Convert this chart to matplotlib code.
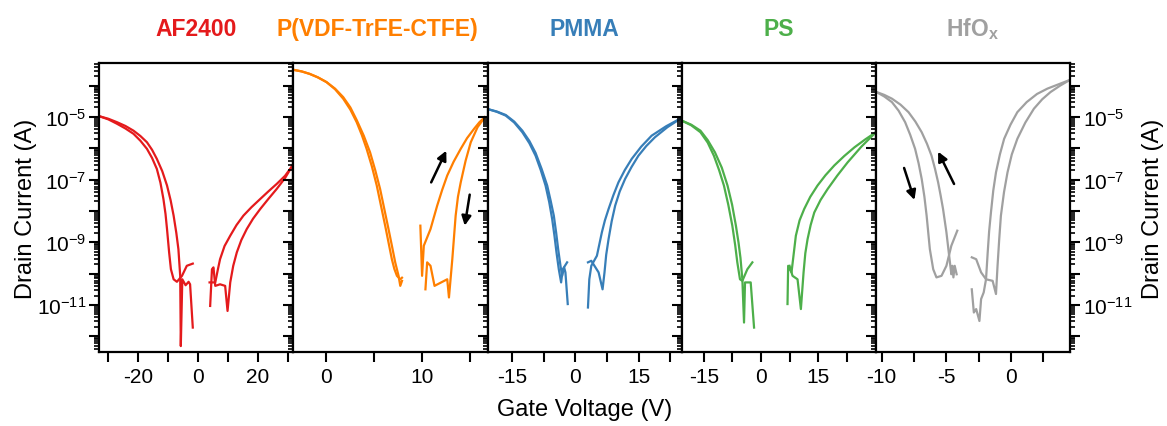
import numpy as np
import matplotlib
matplotlib.use("Agg")
import matplotlib.pyplot as plt
from matplotlib.ticker import LogLocator, FixedLocator, NullFormatter, FuncFormatter

plt.rcParams["font.family"] = ["Liberation Sans", "DejaVu Sans"]
plt.rcParams["mathtext.default"] = "regular"
plt.rcParams["axes.unicode_minus"] = False

# --- data: gate voltage (V) and log10 of drain current (A) ---
# AF2400
af_a_left_v = [-33.0, -30.0, -27.1, -24.3, -21.6, -19.3, -17.1, -15.4, -13.8, -12.6, -11.6, -10.9, -10.4, -9.7, -9.1, -8.2, -7.1, -5.4, -3.8, -1.8]
af_a_left_i = [-4.98, -5.08, -5.22, -5.37, -5.54, -5.76, -6.02, -6.31, -6.66, -7.10, -7.62, -8.10, -8.58, -9.32, -9.86, -10.18, -10.26, -10.07, -9.75, -9.68]
af_b_left_v = [-33.0, -30.0, -27.1, -24.3, -21.6, -19.3, -17.1, -15.4, -13.8, -12.0, -10.4, -9.2, -8.2, -7.3, -6.6, -6.0, -5.8, -5.3, -4.2, -3.2, -2.7, -1.8]
af_b_left_i = [-4.98, -5.06, -5.17, -5.29, -5.44, -5.61, -5.81, -6.05, -6.34, -6.73, -7.19, -7.66, -8.15, -8.70, -9.22, -10.07, -12.31, -10.18, -10.37, -10.26, -10.34, -11.72]
af_a_right_v = [4.0, 4.6, 5.1, 5.7, 7.3, 9.0, 9.8, 10.7, 11.7, 12.9, 14.4, 16.2, 18.3, 20.7, 23.4, 26.2, 29.0, 31.5]
af_a_right_i = [-11.03, -9.86, -9.80, -10.39, -10.34, -10.39, -11.19, -10.28, -9.75, -9.32, -8.93, -8.58, -8.25, -7.94, -7.62, -7.30, -6.95, -6.55]
af_b_right_v = [3.8, 5.7, 6.5, 7.3, 8.8, 10.7, 12.8, 15.1, 17.8, 20.7, 23.4, 26.2, 29.0, 31.5]
af_b_right_i = [-10.28, -10.28, -9.90, -9.54, -9.12, -8.79, -8.45, -8.15, -7.88, -7.62, -7.38, -7.14, -6.88, -6.55]

# P(VDF-TrFE-CTFE)
pv_a_left_v = [-3.45, -2.6, -1.75, -0.9, 0.0, 0.9, 1.75, 2.5, 3.16, 3.7, 4.2, 4.75, 5.26, 5.7, 6.14, 6.5, 6.84, 7.1, 7.37, 7.72, 7.9]
pv_a_left_i = [-3.50, -3.55, -3.63, -3.74, -3.89, -4.12, -4.42, -4.77, -5.17, -5.58, -6.02, -6.58, -7.19, -7.83, -8.47, -9.02, -9.54, -9.85, -10.07, -10.18, -10.13]
pv_b_left_v = [-3.45, -2.6, -1.75, -0.9, 0.0, 0.9, 1.75, 2.5, 3.16, 3.9, 4.56, 5.1, 5.61, 6.05, 6.49, 6.85, 7.19, 7.54, 7.72, 7.9]
pv_b_left_i = [-3.50, -3.55, -3.63, -3.74, -3.89, -4.10, -4.37, -4.70, -5.10, -5.60, -6.13, -6.70, -7.30, -7.94, -8.58, -9.12, -9.64, -10.07, -10.39, -10.23]
pv_a_right_v = [9.82, 10.0, 10.18, 10.88, 11.58, 12.1, 12.63, 13.3, 14.04, 14.7, 15.44, 16.0, 16.56]
pv_a_right_i = [-8.47, -10.07, -9.11, -8.58, -7.83, -7.33, -6.87, -6.43, -6.02, -5.68, -5.38, -5.17, -5.01]
pv_b_right_v = [10.35, 10.53, 10.88, 11.30, 12.63, 12.81, 13.16, 13.51, 13.75, 14.04, 14.55, 15.09, 15.8, 16.56]
pv_b_right_i = [-10.50, -9.64, -9.75, -10.39, -10.18, -10.76, -9.54, -8.15, -7.55, -7.09, -6.40, -5.81, -5.33, -5.01]
pv_arrows = [((10.95, -7.09), (12.53, -6.08)), ((14.98, -7.48), (14.46, -8.47))]

# PMMA
pm_a_left_v = [-20.8, -18.6, -16.5, -14.5, -12.57, -10.9, -9.43, -8.2, -7.07, -6.2, -5.5, -4.95, -4.48, -3.93, -3.38, -2.99, -1.96]
pm_a_left_i = [-4.75, -4.84, -4.96, -5.18, -5.49, -5.84, -6.24, -6.70, -7.19, -7.72, -8.26, -8.80, -9.32, -9.86, -10.28, -9.86, -9.64]
pm_b_left_v = [-20.8, -18.6, -16.5, -14.5, -12.57, -10.9, -9.43, -8.0, -6.68, -5.85, -5.11, -4.55, -4.08, -3.53, -3.14, -2.67, -2.36, -1.81]
pm_b_left_i = [-4.75, -4.83, -4.94, -5.15, -5.44, -5.77, -6.15, -6.66, -7.19, -7.68, -8.15, -8.70, -9.22, -9.75, -10.07, -9.80, -9.96, -10.97]
pm_a_right_v = [2.98, 3.3, 3.77, 5.1, 6.28, 7.0, 7.86, 9.0, 10.2, 11.7, 13.35, 15.6, 18.07, 21.5, 25.2]
pm_a_right_i = [-11.08, -10.18, -9.75, -9.43, -8.68, -8.30, -7.94, -7.50, -7.09, -6.70, -6.34, -5.95, -5.60, -5.30, -5.03]
pm_b_right_v = [2.98, 3.77, 5.5, 6.44, 6.9, 7.3, 7.86, 8.6, 9.43, 10.5, 11.78, 13.3, 14.93, 16.8, 18.85, 21.8, 25.2]
pm_b_right_i = [-9.64, -9.59, -9.96, -10.50, -9.96, -9.40, -8.90, -8.33, -7.83, -7.38, -6.98, -6.60, -6.24, -5.93, -5.65, -5.33, -5.03]

# PS
ps_a_left_v = [-20.8, -18.3, -15.9, -14.0, -12.37, -11.0, -9.74, -8.6, -7.54, -6.8, -6.23, -5.53, -4.91, -3.6, -2.28]
ps_a_left_i = [-5.12, -5.27, -5.49, -5.82, -6.24, -6.70, -7.19, -7.80, -8.47, -9.08, -9.64, -10.18, -10.23, -9.86, -9.64]
ps_b_left_v = [-20.8, -18.3, -15.9, -14.0, -12.1, -10.3, -8.8, -7.6, -6.6, -5.9, -5.4, -4.91, -4.47, -4.21, -2.72, -1.84]
ps_b_left_i = [-5.12, -5.25, -5.44, -5.74, -6.13, -6.62, -7.19, -7.80, -8.47, -9.02, -9.50, -10.18, -11.56, -10.28, -10.28, -11.72]
ps_a_right_v = [6.93, 7.1, 7.98, 9.12, 10.1, 11.3, 12.9, 14.8, 16.9, 19.2, 21.8, 24.5, 27.3, 30.1]
ps_a_right_i = [-10.97, -9.75, -9.96, -8.79, -8.30, -7.94, -7.55, -7.19, -6.86, -6.55, -6.25, -5.97, -5.72, -5.49]
ps_b_right_v = [7.46, 8.25, 9.56, 10.44, 11.14, 11.6, 12.19, 13.0, 13.95, 15.6, 17.46, 20.0, 22.7, 26.3, 30.1]
ps_b_right_i = [-9.75, -10.07, -10.18, -11.13, -9.96, -9.35, -8.90, -8.45, -8.05, -7.65, -7.30, -6.87, -6.45, -5.95, -5.49]

# HfOx
hf_a_left_v = [-10.45, -9.8, -9.21, -8.55, -7.93, -7.4, -6.91, -6.5, -6.15, -5.88, -5.64, -5.45, -5.26, -5.0, -4.82, -4.62, -4.54, -4.46, -4.36, -4.21]
hf_a_left_i = [-4.20, -4.30, -4.42, -4.61, -4.85, -5.15, -5.49, -5.86, -6.24, -6.66, -7.09, -7.50, -7.94, -8.68, -9.32, -10.02, -9.75, -10.12, -9.75, -10.02]
hf_b_left_v = [-10.45, -9.8, -9.21, -8.7, -8.19, -7.8, -7.42, -7.15, -6.91, -6.7, -6.53, -6.28, -6.02, -5.77, -5.38, -5.0, -4.62, -4.16]
hf_b_left_i = [-4.20, -4.35, -4.53, -4.80, -5.17, -5.57, -6.02, -6.48, -6.98, -7.55, -8.15, -9.22, -9.86, -10.12, -10.07, -9.75, -9.11, -8.63]
hf_a_right_v = [-3.04, -2.88, -2.7, -2.45, -2.32, -2.12, -1.94, -1.81, -1.7, -1.56, -1.38, -1.17, -0.87, -0.54, -0.05, 0.48, 1.2, 2.0, 2.8, 3.55, 4.55]
hf_a_right_i = [-10.50, -11.24, -11.13, -11.51, -10.81, -10.60, -10.18, -9.32, -8.65, -8.05, -7.35, -6.77, -6.20, -5.70, -5.25, -4.85, -4.53, -4.27, -4.10, -3.98, -3.82]
hf_b_right_v = [-3.04, -2.7, -2.32, -1.94, -1.43, -1.17, -1.05, -0.92, -0.79, -0.55, -0.28, 0.05, 0.48, 1.1, 1.76, 2.4, 3.04, 3.8, 4.55]
hf_b_right_i = [-9.48, -9.54, -9.96, -10.18, -10.23, -10.65, -9.75, -8.90, -8.15, -7.40, -6.77, -6.20, -5.70, -5.18, -4.74, -4.44, -4.21, -4.00, -3.82]
hf_arrows = [((-4.41, -7.14), (-5.64, -6.11)), ((-8.27, -6.63), (-7.47, -7.65))]

titles = ["AF2400", "P(VDF-TrFE-CTFE)", "PMMA", "PS", "HfO$_x$"]
title_x = [0.5, 0.43, 0.5, 0.5, 0.5]
colors = ["#e41a1c", "#ff7f00", "#377eb8", "#4daf4a", "#a0a0a0"]
xlims = [(-33.0, 31.8), (-3.45, 16.85), (-20.8, 25.2), (-20.8, 30.1), (-10.45, 4.55)]
xmajor = [[-20, 0, 20], [0, 10], [-15, 0, 15], [-15, 0, 15], [-10, -5, 0]]
xminor = [[-30, -10, 10, 30], [5, 15], [-7.5, 7.5, 22.5], [-7.5, 7.5, 22.5], [-7.5, -2.5, 2.5]]

panels = [
    [(af_a_left_v, af_a_left_i), (af_b_left_v, af_b_left_i), (af_a_right_v, af_a_right_i), (af_b_right_v, af_b_right_i)],
    [(pv_a_left_v, pv_a_left_i), (pv_b_left_v, pv_b_left_i), (pv_a_right_v, pv_a_right_i), (pv_b_right_v, pv_b_right_i)],
    [(pm_a_left_v, pm_a_left_i), (pm_b_left_v, pm_b_left_i), (pm_a_right_v, pm_a_right_i), (pm_b_right_v, pm_b_right_i)],
    [(ps_a_left_v, ps_a_left_i), (ps_b_left_v, ps_b_left_i), (ps_a_right_v, ps_a_right_i), (ps_b_right_v, ps_b_right_i)],
    [(hf_a_left_v, hf_a_left_i), (hf_b_left_v, hf_b_left_i), (hf_a_right_v, hf_a_right_i), (hf_b_right_v, hf_b_right_i)],
]
arrows = [[], pv_arrows, [], [], hf_arrows]


def ylabel_fmt(val, pos):
    e = int(round(np.log10(val)))
    if e % 2 == 0:
        return ""
    return "$10^{%d}$" % e


fig = plt.figure(figsize=(11.67, 4.27), dpi=100)
gs = fig.add_gridspec(1, 5, left=0.0851, right=0.9169, bottom=0.1726, top=0.850, wspace=0)

for k in range(5):
    ax = fig.add_subplot(gs[0, k])
    for v, li in panels[k]:
        ax.plot(v, 10.0 ** np.array(li), color=colors[k], lw=1.6, solid_joinstyle="round")
    for (x0, y0), (x1, y1) in arrows[k]:
        ax.annotate("", xy=(x1, 10.0 ** y1), xytext=(x0, 10.0 ** y0),
                    arrowprops=dict(arrowstyle="-|>", color="black", lw=1.8, mutation_scale=14,
                                    shrinkA=0, shrinkB=0))
    ax.set_yscale("log")
    ax.set_ylim(3.1e-13, 5.2e-4)
    ax.set_xlim(*xlims[k])
    ax.yaxis.set_major_locator(LogLocator(base=10, numticks=30))
    ax.yaxis.set_minor_locator(LogLocator(base=10, subs=np.arange(2, 10), numticks=30))
    ax.yaxis.set_minor_formatter(NullFormatter())
    ax.xaxis.set_major_locator(FixedLocator(xmajor[k]))
    ax.xaxis.set_minor_locator(FixedLocator(xminor[k]))
    for s in ax.spines.values():
        s.set_linewidth(1.6)
    ax.tick_params(axis="both", which="major", direction="out", length=7, width=1.5, labelsize=15)
    ax.tick_params(axis="x", which="minor", direction="out", length=7, width=1.5)
    ax.tick_params(axis="y", which="minor", direction="out", length=3.5, width=1.2)
    ax.tick_params(axis="y", which="both", left=True, right=(k == 4),
                   labelleft=(k == 0), labelright=(k == 4), pad=2)
    ax.yaxis.set_major_formatter(FuncFormatter(ylabel_fmt))
    ax.text(title_x[k], 1.12, titles[k], transform=ax.transAxes, ha="center", va="center",
            color=colors[k], fontsize=16.5, fontweight="bold")
    if k == 0:
        ax.set_ylabel("Drain Current (A)", fontsize=17, labelpad=0)
    if k == 4:
        ax.yaxis.set_label_position("right")
        ax.set_ylabel("Drain Current (A)", fontsize=17, labelpad=7)
    if k == 2:
        ax.set_xlabel("Gate Voltage (V)", fontsize=17, labelpad=9)

fig.savefig("out.png", dpi=100)
